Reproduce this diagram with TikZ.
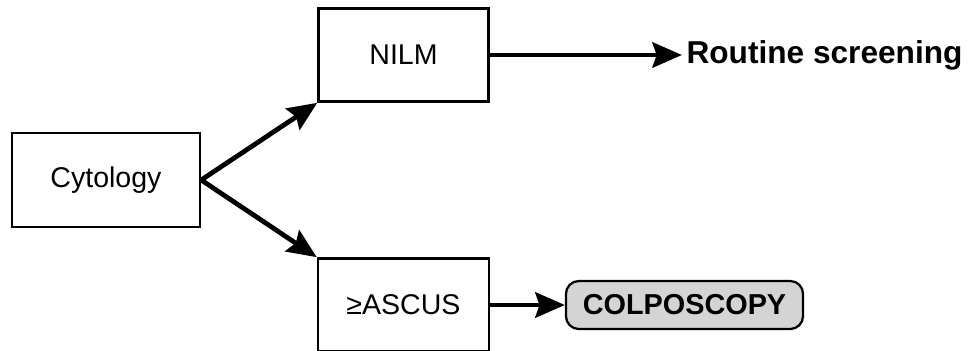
\documentclass[tikz,border=0pt]{standalone}
\usepackage{fontspec}
\setmainfont{Liberation Sans}
\usepackage{xcolor}
\usetikzlibrary{arrows.meta,positioning}
\definecolor{boxgray}{RGB}{212,212,212}
\tikzset{%
	block/.style     = {draw, rectangle, line width=1.7pt, minimum width=4.25cm, minimum height=2.33cm, text centered},
	startstop/.style = {draw, rectangle, rounded corners=0.32cm, line width=1.6pt, fill=boxgray, minimum width=5.925cm, minimum height=1.2cm, font=\fontsize{20.5}{24}\selectfont\bfseries},
	output/.style    = {rectangle, inner sep=3pt, font=\fontsize{22.5}{26}\selectfont\bfseries},
	arrow/.style     = {line width=3.4pt, -{Stealth[length=21pt,width=18pt,inset=3pt]}},
}

\begin{document}
\begin{tikzpicture}[x=0.025cm, y=-0.025cm, font=\fontsize{20.3}{24}\selectfont]
	\useasboundingbox (0,0) rectangle (968,350);
	\node[block, minimum width=4.7cm, minimum height=2.35cm] (cyto) at (106,180) {Cytology};
	\node[block] (nilm) at (403.5,55) {NILM};
	\node[block, minimum width=4.275cm] (ascus) at (403.5,305) {≥ASCUS};
	\node[startstop] (colpo) at (684.5,305) {COLPOSCOPY};
	\node[output, anchor=west] (routine) at (682,55) {Routine screening};
	
	\draw[arrow] (cyto.east) -- (nilm.south west);
	\draw[arrow] (cyto.east) -- (ascus.north west);
	\draw[arrow] (nilm) -- (routine);
	\draw[arrow] (ascus) -- (colpo);
\end{tikzpicture}
\end{document}
